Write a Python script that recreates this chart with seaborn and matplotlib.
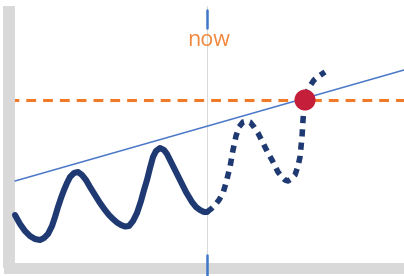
import matplotlib
matplotlib.use("Agg")
import matplotlib.pyplot as plt
import seaborn as sns

# past signal (solid) and forecast (dotted), time vs level
past_t = [6, 11, 16, 21, 26, 31, 35, 39, 43, 46, 49, 52, 55, 58, 61, 65, 69,
          73, 77, 81, 86, 91, 96, 100, 104, 108, 112, 116, 120, 124, 128, 132,
          135, 138, 141, 144, 147, 151, 155, 158, 161, 166, 171, 177, 183, 187,
          191, 195, 198]
past_v = [53, 44, 37, 32, 29, 28, 30, 34, 42, 51, 61, 70, 78, 85, 91, 95, 96,
          93, 88, 81, 73, 65, 58, 53, 49, 45.5, 43, 41.5, 42, 47, 55, 67,
          78, 88, 100, 111, 117, 120, 118, 114, 108, 98, 88, 76, 66, 61,
          58, 56, 56]

future_t = [198, 202, 206, 210, 214, 217, 219, 221, 224, 227, 230, 234, 238,
            241, 245, 249, 253, 256, 259, 263, 266, 269, 273, 276, 279, 282,
            286, 289, 291, 293, 294, 295, 296, 298, 301, 305, 310, 316]
future_v = [56, 59, 63, 68, 75, 85, 93, 101, 118, 132, 141, 146, 147,
            146, 141, 135, 127, 121, 115, 108, 102, 96, 91, 88, 87, 89,
            93, 102, 111, 131, 148, 160, 168, 176, 182, 188, 192, 196]

trend_t = [6, 395]
trend_v = [87, 198]

threshold = 168
now_t = 198
cross_t = [296]
cross_v = [168]

sns.set_style("white")
fig = plt.figure(figsize=(4.04, 2.76), dpi=100)
ax = fig.add_axes([9 / 404, 8 / 276, 395 / 404, 262 / 276])

ax.axvline(now_t, color="#D9D9D9", lw=0.75, zorder=1)
ax.axhline(threshold, color="#F07A28", lw=2.2, linestyle=(0, (3.2, 2.3)), zorder=2)

sns.lineplot(x=trend_t, y=trend_v, ax=ax, color="#4A78C8", lw=1.1, zorder=3)
sns.lineplot(x=past_t, y=past_v, ax=ax, color="#1F3A72", lw=4.4,
             solid_capstyle="round", solid_joinstyle="round", zorder=4)
sns.lineplot(x=future_t, y=future_v, ax=ax, color="#1F3A72", lw=4.0,
             linestyle=(0, (1.3, 1.1)), dash_capstyle="butt", zorder=4)
sns.scatterplot(x=cross_t, y=cross_v, ax=ax, color="#C41E3A", s=230,
                edgecolor="none", zorder=6)

# short blue marks at the "now" line
ax.plot([now_t, now_t], [240, 258], color="#3F78C8", lw=1.8, clip_on=False, zorder=7)
ax.plot([now_t, now_t], [-8, 13], color="#3F78C8", lw=1.8, clip_on=False, zorder=7)
ax.text(now_t + 2, 228, "now", color="#F0883E", fontsize=15.5,
        ha="center", va="center", family="Open Sans")

ax.set_xlim(0, 395)
ax.set_ylim(0, 262)
ax.set_xticks([])
ax.set_yticks([])
for side in ["top", "right"]:
    ax.spines[side].set_visible(False)
ax.spines["left"].set_color("#D9D9D9")
ax.spines["left"].set_linewidth(8.6)
ax.spines["left"].set_capstyle("butt")
ax.spines["bottom"].set_color("#D9D9D9")
ax.spines["bottom"].set_linewidth(7.9)
ax.spines["bottom"].set_capstyle("projecting")

fig.savefig("out.png", dpi=100)
